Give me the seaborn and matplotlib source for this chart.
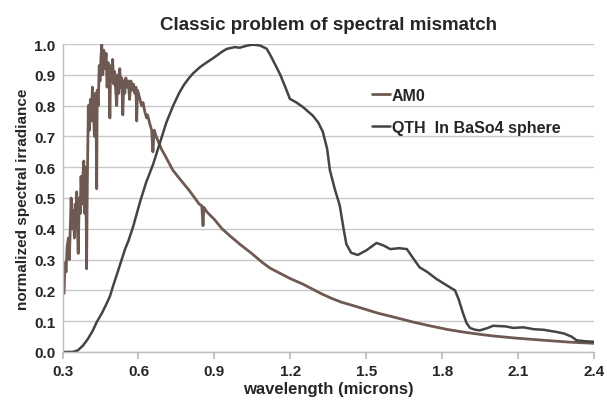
import numpy as np
import pandas as pd
import matplotlib
matplotlib.use("Agg")
import matplotlib.pyplot as plt
import seaborn as sns

# AM0 spectrum (normalized)
am0_wl = [0.300, 0.306, 0.310, 0.314, 0.318, 0.323, 0.327, 0.331, 0.334, 0.338,
          0.342, 0.347, 0.350, 0.353, 0.356, 0.359, 0.362, 0.366, 0.370, 0.373,
          0.377, 0.381, 0.384, 0.388, 0.392, 0.395, 0.398, 0.402, 0.406, 0.410,
          0.414, 0.418, 0.422, 0.426, 0.430, 0.433, 0.435, 0.437, 0.441, 0.445,
          0.448, 0.452, 0.455, 0.459, 0.463, 0.468, 0.472, 0.476, 0.480, 0.484,
          0.487, 0.490, 0.494, 0.498, 0.502, 0.506, 0.510, 0.514, 0.518, 0.522,
          0.526, 0.530, 0.534, 0.538, 0.542, 0.546, 0.550, 0.555, 0.560, 0.565,
          0.570, 0.575, 0.580, 0.585, 0.590, 0.593, 0.596, 0.600, 0.606, 0.612,
          0.618, 0.625, 0.632, 0.636, 0.645, 0.652, 0.657, 0.662, 0.670, 0.690,
          0.710, 0.736, 0.770, 0.800, 0.840, 0.850, 0.855, 0.858, 0.870, 0.900,
          0.930, 0.960, 1.000, 1.050, 1.090, 1.120, 1.160, 1.200, 1.250, 1.280,
          1.320, 1.360, 1.400, 1.450, 1.490, 1.550, 1.600, 1.680, 1.750, 1.820,
          1.880, 1.950, 2.000, 2.090, 2.150, 2.200, 2.250, 2.300, 2.350, 2.400]
am0_val = [0.20, 0.19, 0.29, 0.26, 0.34, 0.37, 0.30, 0.42, 0.50, 0.40,
           0.46, 0.37, 0.48, 0.42, 0.52, 0.40, 0.32, 0.50, 0.45, 0.57,
           0.48, 0.58, 0.62, 0.45, 0.60, 0.27, 0.55, 0.80, 0.72, 0.82,
           0.75, 0.86, 0.78, 0.70, 0.84, 0.72, 0.53, 0.85, 0.80, 0.93,
           0.88, 0.96, 1.00, 0.90, 0.98, 0.92, 0.97, 0.86, 0.94, 0.90,
           0.76, 0.93, 0.88, 0.95, 0.87, 0.91, 0.85, 0.80, 0.90, 0.84,
           0.92, 0.86, 0.89, 0.77, 0.88, 0.84, 0.89, 0.86, 0.88, 0.82,
           0.88, 0.85, 0.87, 0.84, 0.86, 0.75, 0.85, 0.84, 0.82, 0.80,
           0.81, 0.78, 0.76, 0.77, 0.74, 0.72, 0.65, 0.72, 0.70, 0.66,
           0.63, 0.59, 0.555, 0.525, 0.48, 0.475, 0.41, 0.47, 0.455, 0.43,
           0.40, 0.378, 0.35, 0.318, 0.29, 0.272, 0.255, 0.238, 0.22, 0.207,
           0.19, 0.175, 0.162, 0.150, 0.140, 0.125, 0.115, 0.098, 0.085, 0.073,
           0.065, 0.057, 0.052, 0.045, 0.041, 0.038, 0.035, 0.032, 0.030, 0.028]

# QTH lamp in BaSO4 sphere (normalized)
qth_wl = [0.30, 0.34, 0.36, 0.38, 0.40, 0.42, 0.435, 0.455, 0.47, 0.487,
          0.50, 0.52, 0.547, 0.56, 0.58, 0.606, 0.63, 0.658, 0.685, 0.71,
          0.737, 0.76, 0.78, 0.80, 0.816, 0.843, 0.869, 0.90, 0.93, 0.948,
          0.98, 1.0, 1.03, 1.052, 1.08, 1.106, 1.12, 1.145, 1.16, 1.18,
          1.198, 1.224, 1.25, 1.289, 1.31, 1.328, 1.345, 1.356, 1.375, 1.395,
          1.41, 1.421, 1.44, 1.466, 1.50, 1.54, 1.57, 1.594, 1.63, 1.66,
          1.68, 1.71, 1.74, 1.777, 1.81, 1.85, 1.865, 1.88, 1.895, 1.909,
          1.93, 1.948, 1.98, 2.0, 2.05, 2.08, 2.12, 2.16, 2.2, 2.25,
          2.28, 2.31, 2.33, 2.36, 2.4]
qth_val = [0.0, 0.0, 0.005, 0.02, 0.042, 0.07, 0.097, 0.125, 0.15, 0.18,
           0.215, 0.265, 0.334, 0.36, 0.41, 0.487, 0.55, 0.61, 0.68, 0.745,
           0.80, 0.84, 0.868, 0.89, 0.905, 0.925, 0.94, 0.957, 0.975, 0.984,
           0.99, 0.988, 0.995, 0.998, 0.995, 0.985, 0.965, 0.925, 0.90, 0.86,
           0.822, 0.81, 0.795, 0.767, 0.745, 0.715, 0.66, 0.59, 0.53, 0.475,
           0.40, 0.35, 0.322, 0.315, 0.33, 0.354, 0.345, 0.334, 0.337, 0.334,
           0.31, 0.275, 0.26, 0.237, 0.22, 0.20, 0.17, 0.13, 0.095, 0.078,
           0.072, 0.07, 0.078, 0.085, 0.083, 0.078, 0.08, 0.074, 0.072, 0.065,
           0.06, 0.05, 0.038, 0.035, 0.033]

x_ticks = [0.3, 0.6, 0.9, 1.2, 1.5, 1.8, 2.1, 2.4]
y_ticks = [0.0, 0.1, 0.2, 0.3, 0.4, 0.5, 0.6, 0.7, 0.8, 0.9, 1.0]

sns.set_theme(style="white")
plt.rcParams['font.family'] = ['Liberation Sans', 'DejaVu Sans']

fig, ax = plt.subplots(figsize=(6.07, 4.02), dpi=100)
fig.subplots_adjust(left=0.103, right=0.979, top=0.888, bottom=0.122)

sns.lineplot(x=am0_wl, y=am0_val, ax=ax, color='#6E5A52', linewidth=2.0,
             label='AM0', sort=False)
sns.lineplot(x=qth_wl, y=qth_val, ax=ax, color='#444444', linewidth=1.8,
             label='QTH  In BaSo4 sphere', sort=False)

ax.set_xlim(0.3, 2.4)
ax.set_ylim(0.0, 1.0)
ax.set_xticks(x_ticks)
ax.set_xticklabels([f'{t:.1f}' for t in x_ticks], fontweight='bold', fontsize=11)
ax.set_yticks(y_ticks)
ax.set_yticklabels([f'{t:.1f}' for t in y_ticks], fontweight='bold', fontsize=11)

ax.yaxis.grid(True, color='#C8C8C8', linewidth=1)
ax.xaxis.grid(False)
ax.set_axisbelow(True)
for s in ['top', 'right']:
    ax.spines[s].set_visible(False)
for s in ['left', 'bottom']:
    ax.spines[s].set_color('#BDBDBD')
    ax.spines[s].set_linewidth(1)
ax.tick_params(axis='x', which='major', direction='out', length=5, color='#BDBDBD',
               bottom=True, pad=4)
ax.tick_params(axis='y', length=0, pad=5)

ax.set_title('Classic problem of spectral mismatch', fontweight='bold', fontsize=13.5, pad=11)
ax.set_xlabel('wavelength (microns)', fontweight='bold', fontsize=12, labelpad=2)
ax.set_ylabel('normalized spectral irradiance', fontweight='bold', fontsize=11, labelpad=3)

leg = ax.legend(loc='center left', bbox_to_anchor=(0.582, 0.782), frameon=False,
                borderaxespad=0, borderpad=0,
                handlelength=1.1, handletextpad=0.15, labelspacing=1.05,
                prop={'weight': 'bold', 'size': 11.5})

fig.savefig('out.png', dpi=100)
